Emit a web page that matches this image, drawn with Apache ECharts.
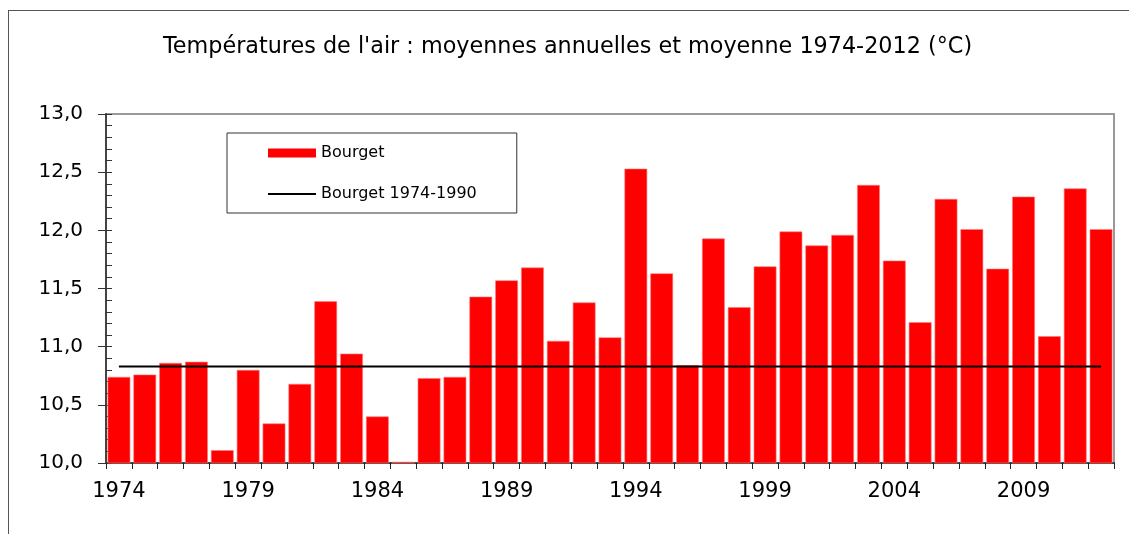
<!DOCTYPE html>
<html>
<head>
<meta charset="utf-8">
<script src="https://cdn.jsdelivr.net/npm/echarts@6/dist/echarts.min.js"></script>
<style>
  html, body { margin: 0; padding: 0; background: #fff; }
  #chart { width: 1129px; height: 534px; }
  #frame {
    position: absolute; left: 8px; top: 10px; right: 0; bottom: 0;
    border-left: 1px solid #555; border-top: 1px solid #555;
    pointer-events: none;
  }
</style>
</head>
<body>
<div id="chart"></div>
<div id="frame"></div>
<script>
// années 1974-2012
var years = ['1974', '1975', '1976', '1977', '1978', '1979', '1980', '1981', '1982', '1983',
  '1984', '1985', '1986', '1987', '1988', '1989', '1990', '1991', '1992', '1993',
  '1994', '1995', '1996', '1997', '1998', '1999', '2000', '2001', '2002', '2003',
  '2004', '2005', '2006', '2007', '2008', '2009', '2010', '2011', '2012']

// moyennes annuelles Bourget (°C)
var bourget = [10.74, 10.76, 10.86, 10.87, 10.11, 10.80, 10.34, 10.68, 11.39, 10.94,
  10.40, 10.01, 10.73, 10.74, 11.43, 11.57, 11.68, 11.05, 11.38, 11.08,
  12.53, 11.63, 10.84, 11.93, 11.34, 11.69, 11.99, 11.87, 11.96, 12.39,
  11.74, 11.21, 12.27, 12.01, 11.67, 12.29, 11.09, 12.36, 12.01]

// moyenne de référence, tracée du premier au dernier bâton
var meanLine = [['1974', 10.83], ['2012', 10.83]]

var chart = echarts.init(document.getElementById('chart'))

var fontFamily = 'DejaVu Sans, sans-serif'

chart.setOption({
  animation: false,
  textStyle: { fontFamily: fontFamily },
  title: {
    text: "Températures de l'air : moyennes annuelles et moyenne 1974-2012 (°C)",
    left: 158,
    top: 31,
    textStyle: { fontSize: 22.3, fontWeight: 'normal', color: '#000', fontFamily: fontFamily }
  },
  legend: {
    orient: 'vertical',
    left: 227,
    top: 133,
    padding: [12, 40, 11, 40],
    itemGap: 25,
    itemWidth: 48,
    itemHeight: 9,
    borderColor: '#333',
    borderWidth: 1,
    textStyle: { fontSize: 16, color: '#000', fontFamily: fontFamily },
    data: [
      { name: 'Bourget', icon: 'rect', itemStyle: { borderWidth: 0 } },
      { name: 'Bourget 1974-1990', itemStyle: { opacity: 0 }, lineStyle: { width: 2, color: '#000' } }
    ]
  },
  grid: {
    left: 106,
    top: 114,
    width: 1008,
    height: 349,
    show: true,
    borderColor: '#999',
    borderWidth: 2
  },
  xAxis: {
    type: 'category',
    data: years,
    boundaryGap: true,
    axisLine: { lineStyle: { color: '#444', width: 2 } },
    axisTick: { show: true, interval: 0, length: 6, lineStyle: { color: '#222' } },
    axisLabel: { interval: 4, margin: 18, fontSize: 21, color: '#000' },
    splitLine: { show: false }
  },
  yAxis: [
    {
      type: 'value',
      min: 10,
      max: 13,
      interval: 0.5,
      axisLine: { show: true, lineStyle: { color: '#444', width: 2 } },
      axisTick: { show: true, length: 8, lineStyle: { color: '#333' } },
      axisLabel: {
        fontSize: 20,
        color: '#000',
        margin: 23,
        formatter: function (v) { return v.toFixed(1).replace('.', ',') }
      },
      splitLine: { show: false }
    },
    {
      type: 'value',
      position: 'left',
      min: 10,
      max: 13,
      interval: 0.5,
      axisLine: { show: false },
      axisTick: { show: true, inside: true, length: 6, lineStyle: { color: '#333' } },
      minorTick: { show: true, splitNumber: 5, length: 6, lineStyle: { color: '#333' } },
      axisLabel: { show: false },
      splitLine: { show: false }
    }
  ],
  series: [
    {
      name: 'Bourget',
      type: 'bar',
      data: bourget,
      barCategoryGap: '12%',
      itemStyle: { color: '#ff0000', borderColor: '#ff7a7a', borderWidth: 0.6 }
    },
    {
      name: 'Bourget 1974-1990',
      type: 'line',
      data: meanLine,
      symbol: 'none',
      lineStyle: { color: '#000', width: 2 },
      itemStyle: { color: '#000' },
      z: 5
    }
  ]
})
</script>
</body>
</html>
